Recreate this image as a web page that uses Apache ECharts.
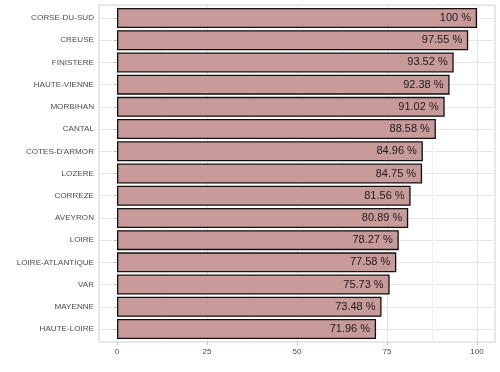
<!DOCTYPE html>
<html><head><meta charset="utf-8">
<script src="https://cdn.jsdelivr.net/npm/echarts@6/dist/echarts.min.js"></script>
<style>html,body{margin:0;padding:0;background:#fff}#c{width:500px;height:372px}</style>
</head><body><div id="c"></div>
<script>
const categories = ["CORSE-DU-SUD","CREUSE","FINISTERE","HAUTE-VIENNE","MORBIHAN","CANTAL","COTES-D'ARMOR","LOZERE","CORREZE","AVEYRON","LOIRE","LOIRE-ATLANTIQUE","VAR","MAYENNE","HAUTE-LOIRE"];
const values = [100,97.55,93.52,92.38,91.02,88.58,84.96,84.75,81.56,80.89,78.27,77.58,75.73,73.48,71.96];
const xTicks = [0,25,50,75,100];

const chart = echarts.init(document.getElementById('c'), null, {renderer:'canvas'});
const font = 'Liberation Sans, Arial, sans-serif';
chart.setOption({
  animation:false,
  grid:[
    {left:99, top:5, width:396, height:337, show:true, borderColor:'#cfcfcf', borderWidth:1, backgroundColor:'transparent'},
    {left:99, top:18, width:396, height:311},
    {left:117, top:5, width:360, height:337}
  ],
  xAxis:[
    {gridIndex:0, type:'value', show:false, min:0, max:1},
    {gridIndex:1, type:'value', show:false, min:-5, max:105},
    {gridIndex:2, type:'value', min:0, max:100, interval:25,
      axisLine:{show:false},
      axisTick:{show:true, length:3, lineStyle:{color:'#bdbdbd', width:1}},
      axisLabel:{color:'#4d4d4d', fontSize:8, fontFamily:font, margin:6,
        formatter:v=> xTicks.includes(v)? String(v):''},
      splitLine:{show:true, lineStyle:{color:'#e5e5e5', width:1}},
      minorTick:{show:false, splitNumber:2},
      minorSplitLine:{show:true, lineStyle:{color:'#f0f0f0', width:1}}
    }
  ],
  yAxis:[
    {gridIndex:0, type:'value', show:false, min:0, max:1},
    {gridIndex:1, type:'category', data:categories, inverse:true, boundaryGap:false,
      axisLine:{show:false},
      axisTick:{show:true, length:3, alignWithLabel:true, lineStyle:{color:'#bdbdbd'}},
      axisLabel:{color:'#4d4d4d', fontSize:8.1, fontFamily:font, margin:5},
      splitLine:{show:true, lineStyle:{color:'#e5e5e5', width:1}}
    },
    {gridIndex:2, type:'value', show:false, min:0, max:1}
  ],
  series:[{
    type:'bar', xAxisIndex:1, yAxisIndex:1, data:values, barWidth:20,
    itemStyle:{color:'#c99a9a', borderColor:'#111', borderWidth:1.3},
    label:{show:true, position:'insideRight', distance:6, color:'#1a1a1a', fontSize:11, fontFamily:font,
      formatter:p=>p.value+' %'}
  }]
});
</script></body></html>
